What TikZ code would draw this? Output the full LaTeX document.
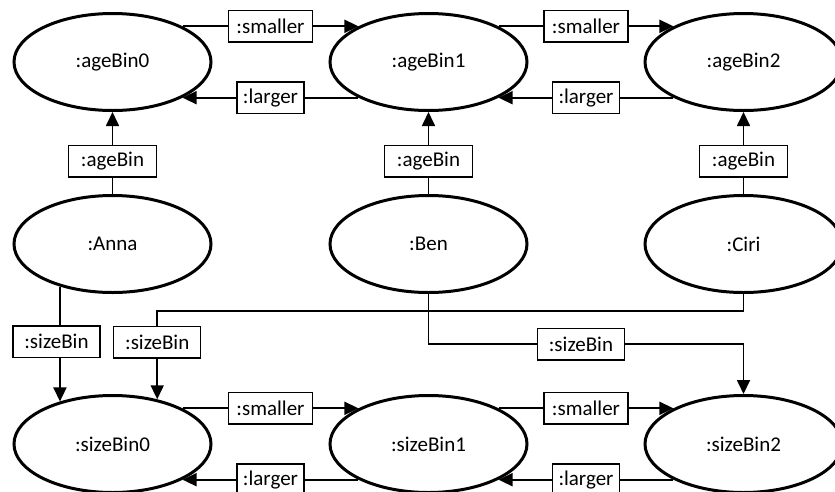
\documentclass[tikz,border=0pt]{standalone}
\usepackage{fontspec}
\setmainfont{Carlito}
\usetikzlibrary{arrows.meta, shapes.geometric, calc}
\begin{document}
\begin{tikzpicture}[x=1pt, y=-1pt,
  ent/.style={ellipse, draw, line width=3pt, fill=white, minimum width=197pt, minimum height=97pt, inner sep=0pt, font=\fontsize{21}{25}\selectfont},
  lbl/.style={draw, line width=1.5pt, fill=white, minimum height=31.5pt, inner sep=0pt, font=\fontsize{21}{25}\selectfont},
  conn/.style={line width=1.7pt, -{Triangle[length=14pt,width=13pt]}}]
\clip (0,0) rectangle (835,491);
\fill[white] (0,0) rectangle (835,491);
% entities
\node[ent] (a0) at (112.5,62) {:ageBin0};
\node[ent] (a1) at (428.5,62) {:ageBin1};
\node[ent] (a2) at (743.5,62) {:ageBin2};
\node[ent] (anna) at (112.5,244) {:Anna};
\node[ent] (ben) at (428.5,244) {:Ben};
\node[ent] (ciri) at (743.5,244) {:Ciri};
\node[ent] (s0) at (112.5,444) {:sizeBin0};
\node[ent] (s1) at (428.5,444) {:sizeBin1};
\node[ent] (s2) at (743.5,444) {:sizeBin2};
% smaller / larger
\draw[conn] (a0.27) -- node[lbl, minimum width=84pt] {:smaller} (a1.153);
\draw[conn] (a1.-153) -- node[lbl, minimum width=67pt] {:larger} (a0.-27);
\draw[conn] (a1.27) -- node[lbl, minimum width=84pt] {:smaller} (a2.153);
\draw[conn] (a2.-153) -- node[lbl, minimum width=67pt] {:larger} (a1.-27);
\draw[conn] (s0.27) -- node[lbl, minimum width=84pt] {:smaller} (s1.153);
\draw[conn] (s1.-153) -- node[lbl, minimum width=67pt] {:larger} (s0.-27);
\draw[conn] (s1.27) -- node[lbl, minimum width=84pt] {:smaller} (s2.153);
\draw[conn] (s2.-153) -- node[lbl, minimum width=67pt] {:larger} (s1.-27);
% ageBin
\draw[conn] (anna.north) -- node[lbl, pos=0.40, minimum width=88pt] {:ageBin} (a0.south);
\draw[conn] (ben.north) -- node[lbl, pos=0.40, minimum width=88pt] {:ageBin} (a1.south);
\draw[conn] (ciri.north) -- node[lbl, pos=0.40, minimum width=88pt] {:ageBin} (a2.south);
% sizeBin
\draw[conn] (anna.219) -- node[lbl, pos=0.48, xshift=-3.5pt, minimum width=87pt] {:sizeBin} (s0.141);
\coordinate (ck) at (ciri.south |- 0,311);
\draw[conn] (ciri.south) -- (ck) -| node[lbl, pos=0.676, minimum width=87pt] {:sizeBin} (s0.45);
\coordinate (bk) at (ben.south |- 0,344);
\draw[conn] (ben.south) -- (bk) -| node[lbl, pos=0.242, minimum width=87pt] {:sizeBin} (s2.north);
\end{tikzpicture}
\end{document}
